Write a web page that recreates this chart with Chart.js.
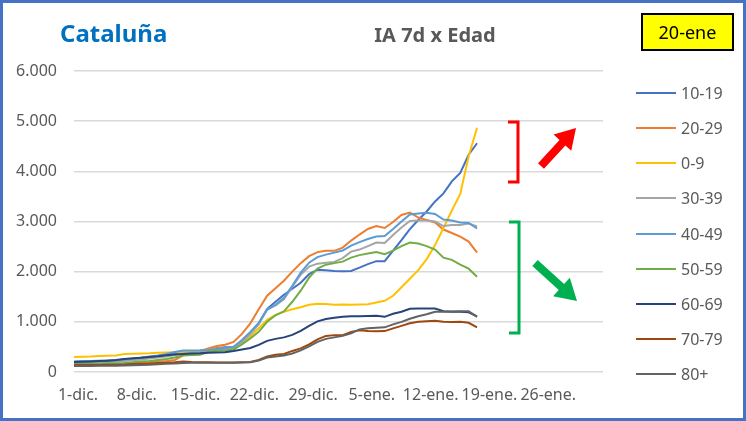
<!DOCTYPE html>
<html lang="es">
<head>
<meta charset="UTF-8">
<title>Cataluña – IA 7d x Edad</title>
<script src="https://cdn.jsdelivr.net/npm/chart.js"></script>
<style>
  html, body { margin: 0; padding: 0; background: #fff; }
  #wrap { position: relative; width: 746px; height: 421px; overflow: hidden; font-family: "Noto Sans", sans-serif; }
  #chart { position: absolute; left: 0; top: 0; }
  #frame { position: absolute; left: 0; top: 0; width: 746px; height: 421px; box-sizing: border-box; border: 3px solid #4472C4; pointer-events: none; }
  .title { position: absolute; left: 60px; top: 21px; font-size: 24px; line-height: 24px; font-weight: bold; color: #0070C0; }
  .sub { position: absolute; left: 335px; top: 25px; width: 200px; text-align: center; font-size: 20px; line-height: 20px; font-weight: bold; color: #595959; }
  .datebox { position: absolute; left: 641px; top: 13px; width: 93px; height: 38px; box-sizing: border-box; border: 2px solid #000; background: #FFFF00; font-size: 18px; line-height: 34px; text-align: center; color: #000; }
  .lg-line { position: absolute; left: 636px; width: 40px; height: 2px; }
  .lg-text { position: absolute; left: 681px; font-size: 16px; line-height: 20px; height: 20px; color: #595959; white-space: nowrap; }
</style>
</head>
<body>
<div id="wrap">
  <canvas id="chart" width="746" height="421"></canvas>
  <div class="title">Cataluña</div>
  <div class="sub">IA 7d x Edad</div>
  <div class="datebox">20-ene</div>
  <div id="legend"></div>
  <div id="frame"></div>
</div>

<script>
// etiquetas del eje X (una cada 7 días, empezando el 1-dic.)
const tickLabels = ["1-dic.", "8-dic.", "15-dic.", "22-dic.", "29-dic.", "5-ene.", "12-ene.", "19-ene.", "26-ene."];

const groups = ["10-19", "20-29", "0-9", "30-39", "40-49", "50-59", "60-69", "70-79", "80+"];
const colors = ["#4472C4", "#ED7D31", "#FFC000", "#A5A5A5", "#5B9BD5", "#70AD47", "#264478", "#9E480E", "#636363"];

// IA 7 días por edad, del 1-dic. al 18-ene.
const ia10_19 = [210,215,220,225,230,235,250,260,280,300, 320,340,370,400,415,425,450,480,495,500,
  610,770,970,1260,1400,1540,1660,1780,1950,2040, 2030,2015,2010,2015,2080,2150,2210,2210,2420,2630,
  2850,3030,3200,3400,3560,3800,3970,4330,4560];
const ia20_29 = [140,140,145,145,150,155,165,175,190,200, 210,220,240,330,400,420,470,520,545,600,
  760,970,1250,1520,1670,1820,2000,2170,2310,2390, 2415,2415,2480,2620,2740,2850,2910,2870,2990,3130,
  3180,3080,3030,2980,2840,2770,2700,2600,2380];
const ia0_9 = [300,305,310,320,325,330,360,365,370,375, 385,390,395,400,400,410,440,470,475,490,
  590,720,870,1040,1140,1200,1250,1290,1340,1360, 1355,1340,1345,1340,1345,1350,1385,1420,1520,1690,
  1860,2030,2250,2530,2870,3220,3550,4300,4870];
const ia30_39 = [180,185,190,195,200,205,220,235,250,270, 290,310,340,370,380,390,410,430,450,470,
  600,760,950,1250,1330,1450,1700,1940,2100,2160, 2180,2195,2270,2400,2440,2510,2580,2570,2730,2880,
  3010,3020,3020,3000,2910,2930,2930,2960,2900];
const ia40_49 = [200,205,210,220,225,230,250,265,290,310, 330,360,400,430,430,430,440,460,480,500,
  640,800,980,1240,1340,1480,1720,1980,2180,2290, 2340,2380,2420,2520,2590,2650,2700,2710,2850,3000,
  3140,3160,3175,3150,3040,3020,2980,2970,2860];
const ia50_59 = [160,160,165,165,170,175,180,195,210,220, 240,260,290,330,340,345,400,430,425,450,
  550,670,800,1000,1130,1210,1400,1620,1880,2060, 2140,2170,2200,2280,2330,2360,2390,2350,2420,2510,
  2580,2560,2510,2440,2280,2235,2140,2060,1900];
const ia60_69 = [200,205,210,220,225,240,260,275,285,300, 315,335,350,360,370,375,385,390,395,420,
  450,480,540,620,660,690,740,820,920,1010, 1055,1080,1100,1110,1110,1115,1120,1100,1160,1200,
  1260,1265,1267,1265,1210,1200,1200,1190,1110];
const ia70_79 = [140,140,140,140,145,145,150,160,165,170, 180,185,195,210,200,195,195,190,190,190,
  195,200,240,310,345,360,420,470,550,650, 720,735,735,800,830,815,810,815,870,920,
  970,1000,1010,1020,1000,995,1000,980,890];
const ia80 = [120,120,120,125,125,125,130,135,140,145, 155,165,170,180,185,185,185,185,185,185,
  190,195,230,290,310,330,370,430,510,600, 660,690,720,770,850,870,880,890,950,1000,
  1060,1110,1150,1200,1200,1205,1210,1210,1100];

const series = [ia10_19, ia20_29, ia0_9, ia30_39, ia40_49, ia50_59, ia60_69, ia70_79, ia80];

function fmtMiles(v) {
  return String(v).replace(/\B(?=(\d{3})+(?!\d))/g, ".");
}

// leyenda a la derecha
const legend = document.getElementById("legend");
groups.forEach((g, i) => {
  const y = 93 + 35.16 * i;
  const line = document.createElement("div");
  line.className = "lg-line";
  line.style.top = (y - 1) + "px";
  line.style.background = colors[i];
  legend.appendChild(line);
  const txt = document.createElement("div");
  txt.className = "lg-text";
  txt.style.top = (y - 10) + "px";
  txt.textContent = g;
  legend.appendChild(txt);
});

function arrow(ctx, x1, y1, x2, y2, w, hl, hw, color) {
  const len = Math.hypot(x2 - x1, y2 - y1);
  ctx.save();
  ctx.translate(x1, y1);
  ctx.rotate(Math.atan2(y2 - y1, x2 - x1));
  ctx.beginPath();
  ctx.moveTo(0, -w / 2);
  ctx.lineTo(len - hl, -w / 2);
  ctx.lineTo(len - hl, -hw / 2);
  ctx.lineTo(len, 0);
  ctx.lineTo(len - hl, hw / 2);
  ctx.lineTo(len - hl, w / 2);
  ctx.lineTo(0, w / 2);
  ctx.closePath();
  ctx.fillStyle = color;
  ctx.fill();
  ctx.restore();
}

function bracket(ctx, xl, xr, yt, yb, color) {
  ctx.save();
  ctx.strokeStyle = color;
  ctx.lineWidth = 3;
  ctx.beginPath();
  ctx.moveTo(xl, yt);
  ctx.lineTo(xr, yt);
  ctx.lineTo(xr, yb);
  ctx.lineTo(xl, yb);
  ctx.stroke();
  ctx.restore();
}

const marks = {
  id: "marks",
  afterDraw(chart) {
    const ctx = chart.ctx;
    bracket(ctx, 508, 518, 122, 182, "#FF0000");
    arrow(ctx, 541, 166, 576, 128, 8, 20, 24, "#FF0000");
    bracket(ctx, 509, 519, 222, 333, "#00B050");
    arrow(ctx, 535, 263, 577, 301, 8, 21, 25, "#00B050");
  }
};

Chart.defaults.font.family = "Noto Sans";

new Chart(document.getElementById("chart"), {
  type: "line",
  data: {
    datasets: series.map((vals, i) => ({
      label: groups[i],
      data: vals.map((v, d) => ({ x: d, y: v })),
      borderColor: colors[i],
      backgroundColor: colors[i],
      borderWidth: 2,
      pointRadius: 0,
      tension: 0,
      fill: false,
      order: -i
    }))
  },
  options: {
    responsive: false,
    animation: false,
    layout: { padding: { left: 0, top: 71, right: 143, bottom: 0 } },
    plugins: { legend: { display: false }, tooltip: { enabled: false } },
    scales: {
      x: {
        type: "linear",
        min: 0,
        max: 63,
        grid: { display: false, drawTicks: false },
        border: { display: false },
        ticks: {
          stepSize: 7,
          autoSkip: false,
          maxRotation: 0,
          includeBounds: false,
          padding: 14,
          labelOffset: 4,
          color: "#595959",
          font: { size: 16 },
          callback: v => tickLabels[v / 7] ?? ""
        },
        afterFit: s => { s.height = 49; }
      },
      y: {
        min: 0,
        max: 6000,
        grid: { color: "#D9D9D9", lineWidth: 1.5, drawTicks: false },
        border: { display: false },
        ticks: {
          stepSize: 1000,
          padding: 17,
          color: "#595959",
          font: { size: 16 },
          callback: v => fmtMiles(v)
        },
        afterFit: s => { s.width = 74; }
      }
    }
  },
  plugins: [marks]
});
</script>
</body>
</html>
